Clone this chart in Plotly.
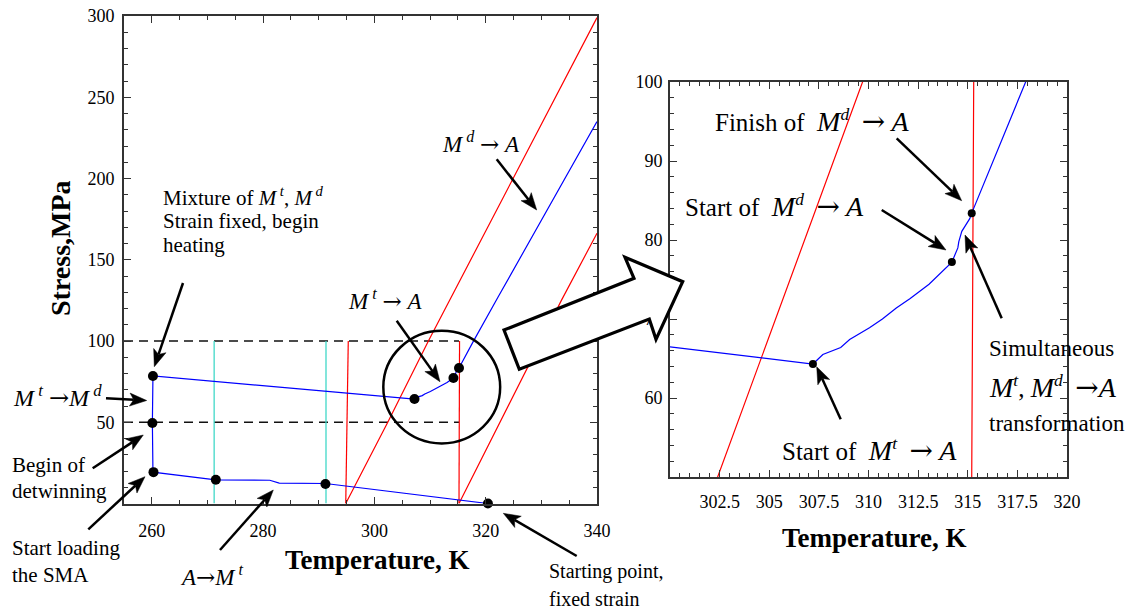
import math
import plotly.graph_objects as go

# ---------------- data ----------------
# blue loading / heating path: Temperature (K), Stress (MPa)
path_T = [320.4, 291.2, 282.9, 281.2, 271.5, 260.2, 260.1, 260.2, 307.2, 307.7, 308.6, 309.05,
          310.05, 310.7, 311.4, 312.1, 313.05, 314.05, 314.2, 314.5, 314.55, 314.7, 315.1,
          315.2, 317.7, 322.3, 340.0]
path_S = [0.0, 12.3, 12.6, 14.3, 14.5, 19.3, 49.5, 78.5, 64.3, 65.5, 66.4, 67.4,
          68.9, 70.0, 71.4, 72.6, 74.4, 76.9, 77.2, 79.0, 79.8, 81.1, 82.7,
          83.4, 99.3, 127.5, 235.0]

# red transformation boundaries
red1_T = [294.85, 302.4, 309.7, 315.4, 324.9, 340.0]
red1_S = [0.0, 50.0, 100.0, 137.5, 199.0, 299.0]
red2_T = [315.2, 333.6, 340.0]
red2_S = [0.0, 125.0, 166.3]
redv1_T = [294.85, 295.0, 295.3]
redv1_S = [0.0, 37.0, 100.0]
redv2_T = [315.2, 315.2, 315.3]
redv2_S = [0.0, 50.0, 100.0]

# cyan (Mf, Ms) lines
cyan1_T = [271.2, 271.2]
cyan2_T = [291.3, 291.3]
cyan_S = [0.0, 100.0]

# dashed stress levels
dash_T = [255.0, 315.2]
dash100_S = [100.0, 100.0]
dash50_S = [50.0, 50.0]

# marked states
dots_T = [320.4, 291.2, 271.5, 260.3, 260.1, 260.2, 307.2, 314.2, 315.2]
dots_S = [0.0, 12.0, 14.6, 19.3, 49.5, 78.5, 64.3, 77.2, 83.4]

# tick labels
main_xticks = [260, 280, 300, 320, 340]
main_yticks = [50, 100, 150, 200, 250, 300]
inset_xticks = [302.5, 305, 307.5, 310, 312.5, 315, 317.5, 320]
inset_xlabels = ["302.5", "305", "307.5", "310", "312.5", "315", "317.5", "320"]
inset_yticks = [60, 70, 80, 90, 100]

# ---------------- figure ----------------
W, H = 1137, 611
SERIF = "Liberation Serif, Times New Roman, serif"


def px(x):
    return x / W


def py(y):
    return 1 - y / H


fig = go.Figure()

BLUE = "#0000FF"
RED = "#FF0000"
CYAN = "#40D8C8"


def line(xs, ys, color, xa="x", ya="y", width=1.2, dash=None):
    fig.add_trace(go.Scatter(x=xs, y=ys, mode="lines", xaxis=xa, yaxis=ya,
                             line=dict(color=color, width=width, dash=dash),
                             hoverinfo="skip", showlegend=False))


for xa, ya in (("x", "y"), ("x2", "y2")):
    if xa == "x":
        line(dash_T, dash100_S, "#111", xa, ya, 1.3, "9px,6px")
        line(dash_T, dash50_S, "#111", xa, ya, 1.3, "9px,6px")
        line(cyan1_T, cyan_S, CYAN, xa, ya, 1.3)
        line(cyan2_T, cyan_S, CYAN, xa, ya, 1.3)
        line(red2_T, red2_S, RED, xa, ya)
    line(redv1_T, redv1_S, RED, xa, ya)
    line(redv2_T, redv2_S, RED, xa, ya)
    line(red1_T, red1_S, RED, xa, ya)
    line(path_T, path_S, BLUE, xa, ya)

fig.add_trace(go.Scatter(x=dots_T, y=dots_S, mode="markers", xaxis="x", yaxis="y",
                         marker=dict(color="black", size=10), cliponaxis=False,
                         hoverinfo="skip", showlegend=False))
fig.add_trace(go.Scatter(x=dots_T, y=dots_S, mode="markers", xaxis="x2", yaxis="y2",
                         marker=dict(color="black", size=8), cliponaxis=True,
                         hoverinfo="skip", showlegend=False))


def axis(domain, rng, tickvals, ticktext, minor_tick0, minor_dtick, anchor, standoff):
    return dict(domain=domain, range=rng, tickmode="array", tickvals=tickvals,
                ticktext=ticktext, ticks="inside", ticklen=7, tickwidth=1.1,
                tickcolor="#333", showline=True, linecolor="#333", linewidth=1.6,
                mirror="allticks", showgrid=False, zeroline=False, anchor=anchor,
                minor=dict(tickmode="linear", tick0=minor_tick0, dtick=minor_dtick,
                           ticks="inside", ticklen=4, tickwidth=1, tickcolor="#333",
                           showgrid=False),
                tickfont=dict(family=SERIF, size=18, color="black"),
                ticklabelstandoff=standoff, automargin=False, fixedrange=True)


fig.update_layout(
    width=W, height=H, margin=dict(l=0, r=0, t=0, b=0),
    paper_bgcolor="white", plot_bgcolor="white", showlegend=False,
    xaxis=axis([124 / W, 597 / W], [255, 340], main_xticks, [str(v) for v in main_xticks],
               255, 5, "y", 10),
    yaxis=axis([1 - 503.5 / H, 1 - 16 / H], [0, 300], main_yticks, [str(v) for v in main_yticks],
               0, 10, "x", 4),
    xaxis2=axis([670 / W, 1067 / W], [300, 320], inset_xticks, inset_xlabels,
                300, 0.5, "y2", 8),
    yaxis2=axis([1 - 477 / H, 1 - 82 / H], [50, 100], inset_yticks, [str(v) for v in inset_yticks],
                50, 2, "x2", 2),
)

shapes = []

# circle around the reverse transformation region (data coords of left plot)
shapes.append(dict(type="circle", xref="x", yref="y", x0=301.6, x1=322.6, y0=37.0, y1=106.3,
                   line=dict(color="black", width=2.5), layer="above"))

# big block arrow pointing to the inset
big = [(504, 330), (634, 278.3), (625, 257.3), (682.7, 281.7), (656, 339.3), (649.3, 319),
       (519.3, 369.3)]
d = "M " + " L ".join(f"{px(a):.5f},{py(b):.5f}" for a, b in big) + " Z"
shapes.append(dict(type="path", xref="paper", yref="paper", path=d, fillcolor="white",
                   line=dict(color="black", width=3.2), layer="above"))


def arrow(tail, tip, L=17, hw=6.5, notch=4, lw=2.5):
    dx, dy = tip[0] - tail[0], tip[1] - tail[1]
    n = math.hypot(dx, dy)
    ux, uy = dx / n, dy / n
    pxp, pyp = -uy, ux
    bx, by = tip[0] - ux * L, tip[1] - uy * L
    nx, ny = tip[0] - ux * (L - notch), tip[1] - uy * (L - notch)
    shapes.append(dict(type="line", xref="paper", yref="paper",
                       x0=px(tail[0]), y0=py(tail[1]), x1=px(nx), y1=py(ny),
                       line=dict(color="black", width=lw), layer="above"))
    pts = [(tip[0], tip[1]), (bx + pxp * hw, by + pyp * hw), (nx, ny), (bx - pxp * hw, by - pyp * hw)]
    p = "M " + " L ".join(f"{px(a):.5f},{py(b):.5f}" for a, b in pts) + " Z"
    shapes.append(dict(type="path", xref="paper", yref="paper", path=p, fillcolor="black",
                       line=dict(color="black", width=0.5), layer="above"))


arrow((183, 283), (154.3, 366.7))
arrow((396.7, 320.7), (440, 381.7))
arrow((496.7, 159.3), (536.7, 210))
arrow((106, 398.3), (146.7, 400.5))
arrow((92.7, 468.3), (143.3, 435))
arrow((88.3, 529.3), (145, 476.7))
arrow((220, 550), (273.3, 490))
arrow((576.7, 556), (503.3, 513.3))
arrow((896.7, 138.3), (961.7, 200.7))
arrow((881.7, 210), (946, 250))
arrow((1001.7, 318.3), (965, 235))
arrow((840.7, 419.3), (816.7, 366.7))

fig.update_layout(shapes=shapes)

ann = []


def text(x, baseline, s, size, anchor="left", bold=False, angle=0):
    mid = baseline - 0.34 * size
    ann.append(dict(x=px(x), y=py(mid), xref="paper", yref="paper", text=s, showarrow=False,
                    xanchor=anchor, yanchor="middle", textangle=angle,
                    font=dict(family=SERIF, size=size, color="black",
                              weight="bold" if bold else "normal")))


def M(sup, size=None):
    if size:
        return f"<span style='font-size:{size}px'><i>M</i></span><sup><i>{sup}</i></sup>"
    return f"<i>M</i><sup> <i>{sup}</i></sup>"


def A(size=None):
    if size:
        return f"<span style='font-size:{size}px'><i>A</i></span>"
    return "<i>A</i>"


def arr(size=None):
    st = "font-family:DejaVu Serif"
    if size:
        st += f";font-size:{size}px"
    return f"<span style='{st}'>\u2192</span>"


# left panel labels
text(160.7, 203.3, "Mixture of " + M("t") + ", " + M("d"), 21)
text(160.7, 228.3, "Strain fixed, begin", 21)
text(160.7, 251.7, "heating", 21)
text(481, 150, M("d") + " " + arr() + " " + A(), 23, anchor="center")
text(384.5, 307, M("t") + " " + arr() + " " + A(), 23, anchor="center")
text(11, 405, M("t") + " " + arr() + M("d"), 24)
text(10, 471.7, "Begin of", 21)
text(10, 498.3, "detwinning", 21)
text(10, 555, "Start loading", 21)
text(10, 581.7, "the SMA", 21)
text(211.5, 583.3, A() + arr() + M("t"), 23, anchor="center")
text(547, 578, "Starting point,", 20)
text(547, 606, "fixed strain", 20)

# right panel labels
text(713, 129, "Finish of  " + M("d", 28) + "  " + arr(28) + " " + A(28), 25)
text(682.7, 214, "Start of  " + M("d", 28) + "  " + arr(28) + " " + A(28), 25)
text(986.7, 356, "Simultaneous", 23)
text(986.7, 395, M("t", 28) + ", " + M("d", 28) + "  " + arr(28) + A(28), 25)
text(986.7, 431.7, "transformation", 23)
text(780, 458, "Start of  " + M("t", 28) + "  " + arr(28) + " " + A(28), 25)

# axis titles
text(377, 569.3, "Temperature, K", 27, anchor="center", bold=True)
text(873.5, 546.7, "Temperature, K", 27, anchor="center", bold=True)
ann.append(dict(x=px(60), y=py(248), xref="paper", yref="paper", text="Stress,MPa",
                showarrow=False, xanchor="center", yanchor="middle", textangle=-90,
                font=dict(family=SERIF, size=28, color="black", weight="bold")))

fig.update_layout(annotations=ann)

fig.write_html("out.html")
